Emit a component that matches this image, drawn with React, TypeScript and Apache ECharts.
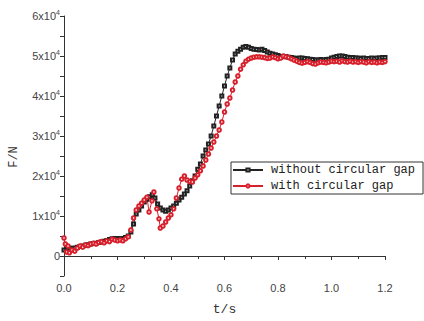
import React, { useEffect, useRef } from "react";
import * as echarts from "echarts";

const seriesNames = ["without circular gap", "with circular gap"];

// time (s), force (N) — without circular gap
const tWithout = [
  0.0, 0.01, 0.02, 0.03, 0.04, 0.05, 0.06, 0.07, 0.08, 0.09,
  0.1, 0.11, 0.12, 0.13, 0.14, 0.15, 0.16, 0.17, 0.18, 0.19,
  0.2, 0.21, 0.22, 0.23, 0.24, 0.25, 0.26, 0.27, 0.28, 0.29,
  0.3, 0.31, 0.32, 0.33, 0.34, 0.35, 0.36, 0.37, 0.38, 0.39,
  0.4, 0.41, 0.42, 0.43, 0.44, 0.45, 0.46, 0.47, 0.48, 0.49,
  0.5, 0.51, 0.52, 0.53, 0.54, 0.55, 0.56, 0.57, 0.58, 0.59,
  0.6, 0.61, 0.62, 0.63, 0.64, 0.65, 0.66, 0.67, 0.68, 0.69,
  0.7, 0.71, 0.72, 0.73, 0.74, 0.75, 0.76, 0.77, 0.78, 0.79,
  0.8, 0.81, 0.82, 0.83, 0.84, 0.85, 0.86, 0.87, 0.88, 0.89,
  0.9, 0.91, 0.92, 0.93, 0.94, 0.95, 0.96, 0.97, 0.98, 0.99,
  1.0, 1.01, 1.02, 1.03, 1.04, 1.05, 1.06, 1.07, 1.08, 1.09,
  1.1, 1.11, 1.12, 1.13, 1.14, 1.15, 1.16, 1.17, 1.18, 1.19, 1.2,
];
const fWithout = [
  1500, 2200, 2000, 1900, 2000, 2200, 2400, 2500, 2700, 2800,
  3000, 3100, 3200, 3400, 3500, 3700, 3900, 4100, 4300, 4400,
  4400, 4300, 4400, 4600, 5000, 6000, 8000, 10500, 11500, 12500,
  13500, 14200, 14800, 15300, 14500, 13000, 12000, 11500, 11200, 11500,
  12000, 12500, 13200, 14000, 14700, 15500, 16300, 17500, 18800, 20000,
  21700, 23000, 25000, 26500, 28000, 30000, 32500, 35000, 37500, 40000,
  42500, 45000, 47000, 49000, 50500, 51200, 51700, 52200, 52400, 52200,
  51900, 51700, 51600, 51500, 51700, 51400, 51000, 50700, 50500, 50300,
  50100, 49900, 49800, 49900, 49700, 49600, 49500, 49400, 49500, 49500,
  49400, 49300, 49200, 49100, 49000, 49000, 49100, 49000, 49100, 49200,
  49500, 49700, 49900, 50000, 50000, 49900, 49700, 49600, 49600, 49500,
  49500, 49400, 49500, 49400, 49400, 49500, 49400, 49500, 49500, 49600, 49600,
];

// time (s), force (N) — with circular gap
const tWith = [
  0.0, 0.005, 0.01, 0.015, 0.02, 0.03, 0.04, 0.05, 0.06, 0.07, 0.08, 0.09,
  0.1, 0.11, 0.12, 0.13, 0.14, 0.15, 0.16, 0.17, 0.18, 0.19,
  0.2, 0.21, 0.22, 0.23, 0.24, 0.25, 0.26, 0.27, 0.28, 0.29,
  0.3, 0.31, 0.318, 0.329, 0.336, 0.347, 0.355, 0.36, 0.37, 0.38, 0.39,
  0.4, 0.41, 0.42, 0.43, 0.44, 0.45, 0.46, 0.47, 0.48, 0.49,
  0.5, 0.51, 0.52, 0.53, 0.54, 0.55, 0.56, 0.57, 0.58, 0.59,
  0.6, 0.61, 0.62, 0.63, 0.64, 0.65, 0.66, 0.67, 0.68, 0.69,
  0.7, 0.71, 0.72, 0.73, 0.74, 0.75, 0.76, 0.77, 0.78, 0.79,
  0.8, 0.81, 0.82, 0.83, 0.84, 0.85, 0.86, 0.87, 0.88, 0.89,
  0.9, 0.91, 0.92, 0.93, 0.94, 0.95, 0.96, 0.97, 0.98, 0.99,
  1.0, 1.01, 1.02, 1.03, 1.04, 1.05, 1.06, 1.07, 1.08, 1.09,
  1.1, 1.11, 1.12, 1.13, 1.14, 1.15, 1.16, 1.17, 1.18, 1.19, 1.2,
];
const fWith = [
  4500, 3000, 1000, 2500, 800, 1500, 1200, 2000, 2500, 2200, 2800, 2600,
  3000, 3200, 3000, 3400, 3600, 3300, 3800, 3600, 4200, 4000,
  3800, 4000, 3800, 4300, 4800, 6500, 9500, 11500, 12500, 13200,
  14000, 14700, 11000, 13800, 16000, 11800, 9300, 7000, 7500, 8500, 9500,
  10300, 11800, 14500, 17000, 19200, 20000, 19000, 18600, 18500, 19500,
  20300, 21300, 22500, 24000, 25500, 27000, 28500, 30000, 31500, 33500,
  36000, 38000, 39500, 41500, 43500, 45000, 46700, 47800, 48700, 49200,
  49500, 49700, 49800, 49800, 49700, 49600, 49400, 49500, 49800, 49600,
  49300, 49500, 50000, 49800, 49600, 49300, 49000, 48700, 48400, 48200,
  48400, 48600, 48400, 48100, 48000, 48300, 48500, 48400, 48300, 48500,
  48700, 48600, 48700, 48500, 48800, 48600, 48500, 48700, 48500, 48600,
  48400, 48600, 48500, 48300, 48600, 48400, 48500, 48300, 48500, 48400, 48600,
];

const xTicks = { min: 0, max: 1.2, interval: 0.2 };
const yTicks = { min: -5000, max: 60000, interval: 5000 };

const zip = (t: number[], f: number[]) => t.map((v, i) => [v, f[i]]);

export default function App() {
  const ref = useRef<HTMLDivElement>(null);
  useEffect(() => {
    if (!ref.current) return;
    const chart = echarts.init(ref.current, undefined, { renderer: "svg" });
    const axisColor = "#333";
    chart.setOption({
      animation: false,
      backgroundColor: "#fff",
      grid: { left: 64, right: 39, top: 16, bottom: 43 },
      legend: {
        orient: "vertical",
        left: 231,
        top: 162,
        padding: [2, 8, 2, 1],
        itemGap: 4,
        itemWidth: 30,
        itemHeight: 4,
        borderColor: "#333",
        borderWidth: 1,
        textStyle: { fontFamily: "Liberation Mono", fontSize: 12, color: "#222", padding: [0, 0, 0, 3] },
        data: seriesNames,
      },
      xAxis: {
        type: "value",
        min: xTicks.min,
        max: xTicks.max,
        interval: xTicks.interval,
        name: "t/s",
        nameLocation: "middle",
        nameGap: 27,
        nameTextStyle: { fontFamily: "Liberation Mono", fontSize: 13, color: "#333" },
        axisLine: { show: true, lineStyle: { color: axisColor, width: 1 } },
        axisTick: { show: true, length: 4, lineStyle: { color: axisColor } },
        minorTick: { show: true, splitNumber: 2, length: 3, lineStyle: { color: axisColor } },
        splitLine: { show: false },
        axisLabel: {
          margin: 6,
          fontFamily: "Liberation Sans",
          fontSize: 11,
          color: "#444",
          formatter: (v: number) => v.toFixed(1),
        },
      },
      yAxis: {
        type: "value",
        min: yTicks.min,
        max: yTicks.max,
        interval: yTicks.interval,
        axisLine: { show: true, lineStyle: { color: axisColor, width: 1 } },
        axisTick: { show: true, length: 4, lineStyle: { color: axisColor } },
        splitLine: { show: false },
        axisLabel: {
          margin: 4,
          color: "#444",
          fontFamily: "Liberation Sans",
          fontSize: 11,
          formatter: (v: number) => {
            if (v % 10000 !== 0) return "";
            if (v === 0) return "{a|0}";
            return `{a|${v / 10000}x10}{b|4}`;
          },
          rich: {
            a: { fontFamily: "Liberation Sans", fontSize: 11, color: "#444", lineHeight: 14 },
            b: { fontFamily: "Liberation Sans", fontSize: 7, color: "#444", lineHeight: 7, verticalAlign: "top" },
          },
        },
      },
      graphic: [
        {
          type: "text",
          x: 14,
          y: 157,
          rotation: Math.PI / 2,
          style: {
            text: "F/N",
            fontFamily: "Liberation Mono",
            fontSize: 12,
            fill: "#333",
            align: "center",
            verticalAlign: "middle",
          },
        },
      ],
      series: [
        {
          name: seriesNames[0],
          type: "line",
          data: zip(tWithout, fWithout),
          symbol: "emptyRect",
          symbolSize: 3,
          lineStyle: { color: "#222", width: 1 },
          itemStyle: { color: "#222", borderWidth: 0.8 },
        },
        {
          name: seriesNames[1],
          type: "line",
          data: zip(tWith, fWith),
          symbol: "emptyCircle",
          symbolSize: 3.5,
          lineStyle: { color: "#d8202c", width: 1 },
          itemStyle: { color: "#d8202c", borderWidth: 0.8 },
        },
      ],
    });
    return () => chart.dispose();
  }, []);
  return <div ref={ref} style={{ width: 424, height: 321, position: "fixed", left: 0, top: 0 }} />;
}
